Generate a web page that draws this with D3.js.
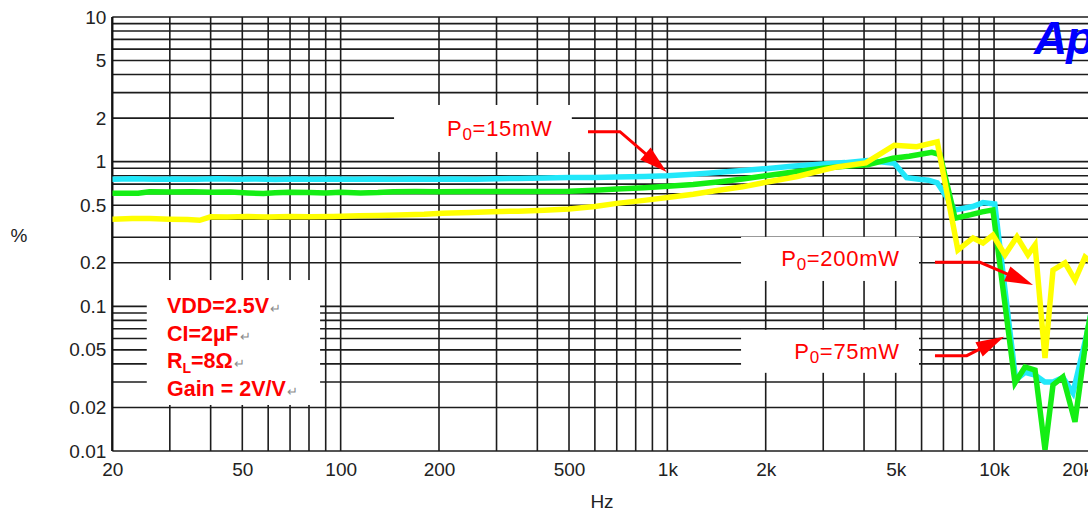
<!DOCTYPE html>
<html>
<head>
<meta charset="utf-8">
<script src="https://cdn.jsdelivr.net/npm/d3@7"></script>
<style>
  html, body { margin: 0; padding: 0; background: #fff; overflow: hidden; }
  svg { display: block; font-family: "Liberation Sans", Arial, sans-serif; }
</style>
</head>
<body>
<svg id="chart" width="1088" height="515"></svg>
<script>
// THD+N (%) versus frequency (Hz) at three output power levels

// Po = 15 mW
const freq15 = [20, 23, 27, 31, 36, 42, 48, 55, 63, 72, 82, 95, 110, 125, 145, 165, 190, 220, 260, 300,
  350, 420, 500, 600, 700, 850, 1000, 1200, 1450, 1700, 2000, 2400, 3000, 3500, 4100, 4950, 5400, 5900,
  6300, 6700, 7600, 8600, 9250, 10050, 11650, 12440, 13350, 14300, 15150, 16250, 17440, 19250, 20000];
const thd15 = [0.757, 0.762, 0.755, 0.76, 0.756, 0.761, 0.755, 0.759, 0.754, 0.76, 0.755, 0.759, 0.756, 0.76, 0.755, 0.759, 0.756, 0.76, 0.757, 0.762,
  0.766, 0.77, 0.776, 0.777, 0.782, 0.79, 0.80, 0.82, 0.845, 0.87, 0.895, 0.93, 0.965, 0.985, 1.02, 0.975, 0.775, 0.755,
  0.745, 0.715, 0.464, 0.49, 0.521, 0.51, 0.031, 0.035, 0.0335, 0.030, 0.030, 0.0322, 0.0252, 0.065, 0.1];

// Po = 75 mW
const freq75 = [20, 24, 26, 30, 35, 40, 46, 52, 58, 63, 70, 80, 90, 100, 115, 130, 145, 170, 200, 250,
  300, 400, 500, 600, 700, 850, 1000, 1200, 1450, 1700, 2000, 2500, 3000, 3500, 4100, 4900, 5500, 6450,
  6830, 7600, 8500, 9200, 9920, 11590, 12440, 13350, 14320, 15150, 16250, 17690, 19250, 20000];
const thd75 = [0.605, 0.606, 0.62, 0.617, 0.62, 0.614, 0.618, 0.608, 0.602, 0.61, 0.615, 0.612, 0.608, 0.615, 0.607, 0.612, 0.62, 0.621, 0.62, 0.622,
  0.622, 0.623, 0.625, 0.635, 0.648, 0.66, 0.675, 0.695, 0.727, 0.76, 0.80, 0.855, 0.90, 0.93, 0.95, 1.056, 1.09, 1.16,
  1.12, 0.406, 0.43, 0.45, 0.464, 0.0296, 0.0381, 0.0363, 0.0102, 0.0286, 0.0325, 0.0159, 0.0655, 0.1];

// Po = 200 mW
const freq200 = [20, 23, 26, 30, 34, 37, 40, 45, 52, 60, 70, 80, 95, 114, 130, 150, 180, 205, 250, 290,
  350, 420, 500, 600, 700, 850, 1000, 1200, 1400, 1700, 2000, 2500, 3000, 3300, 4050, 4950, 5800, 6700,
  7750, 8620, 9250, 9920, 10800, 11750, 12700, 13350, 14320, 15150, 16490, 17690, 18980, 20000];
const thd200 = [0.40, 0.405, 0.404, 0.40, 0.398, 0.393, 0.416, 0.414, 0.417, 0.414, 0.418, 0.416, 0.418, 0.422, 0.424, 0.428, 0.433, 0.44, 0.445, 0.451,
  0.455, 0.462, 0.471, 0.49, 0.515, 0.54, 0.565, 0.595, 0.63, 0.67, 0.72, 0.79, 0.876, 0.92, 0.98, 1.3, 1.27, 1.37,
  0.245, 0.297, 0.274, 0.311, 0.227, 0.302, 0.227, 0.266, 0.044, 0.178, 0.2, 0.152, 0.219, 0.2];

const seriesColors = ["#22e8fa", "#14ee14", "#ffff00"];

// axis ticks
const xTicks = [20, 50, 100, 200, 500, 1000, 2000, 5000, 10000, 20000];
const xTickLabels = ["20", "50", "100", "200", "500", "1k", "2k", "5k", "10k", "20k"];
const yTicks = [0.01, 0.02, 0.05, 0.1, 0.2, 0.5, 1, 2, 5, 10];
const yTickLabels = ["0.01", "0.02", "0.05", "0.1", "0.2", "0.5", "1", "2", "5", "10"];

// test conditions block
const conditionLines = [
  { main: "VDD=2.5V" },
  { main: "CI=2µF" },
  { main: "R", sub: "L", tail: "=8Ω" },
  { main: "Gain = 2V/V" }
];

// power-level callouts, placed in (Hz, %) coordinates
const powerNotes = [
  { tail: "=15mW",  at: [307, 1.505],   box: [[145.7, 2.465], [510, 1.167]],
    arrow: [[571.6, 1.612], [716, 1.612], [995, 0.849]] },
  { tail: "=200mW", at: [3388, 0.191],  box: [[1681, 0.302], [5892, 0.1498]],
    arrow: [[6594, 0.2017], [9058, 0.2017], [13158, 0.1406]] },
  { tail: "=75mW",  at: [3548, 0.0431], box: [[1681, 0.0687], [5892, 0.0347]],
    arrow: [[6594, 0.0456], [8250, 0.0456], [10726, 0.0617]] }
];
const conditionBox = [[25.5, 0.152], [86.5, 0.0208]];
const conditionAt = [29.4, 0.0896];

// ---------------------------------------------------------------
const svg = d3.select("#chart");
const x = d3.scaleLog().domain([20, 20000]).range([112.3, 1092.4]);
const y = d3.scaleLog().domain([0.01, 10]).range([451, 17]);

// grid values: every 1..9 step of each decade
const gridX = [];
[10, 100, 1000, 10000].forEach(d => {
  for (let k = 1; k <= 9; k++) { const v = k * d; if (v >= 20 && v <= 20000) gridX.push(v); }
});
const gridY = [];
[0.01, 0.1, 1].forEach(d => {
  for (let k = 1; k <= 9; k++) gridY.push(+(k * d).toPrecision(3));
});
gridY.push(10);

const grid = svg.append("g").attr("stroke", "#1c1c1c").attr("stroke-width", 1.6);
grid.selectAll("line.h").data(gridY).join("line").attr("class", "h")
  .attr("x1", x(20)).attr("x2", x(20000))
  .attr("y1", d => y(d)).attr("y2", d => y(d));
grid.selectAll("line.v").data(gridX).join("line").attr("class", "v")
  .attr("x1", d => x(d)).attr("x2", d => x(d))
  .attr("y1", y(10)).attr("y2", y(0.01));

// left axis line
svg.append("line").attr("x1", x(20)).attr("x2", x(20))
  .attr("y1", y(10)).attr("y2", y(0.01))
  .attr("stroke", "#111").attr("stroke-width", 2.2);

// white label panels over the grid
const panels = powerNotes.map(n => n.box).concat([conditionBox]);
svg.append("g").selectAll("rect").data(panels).join("rect")
  .attr("x", d => x(d[0][0])).attr("y", d => y(d[0][1]))
  .attr("width", d => x(d[1][0]) - x(d[0][0]))
  .attr("height", d => y(d[1][1]) - y(d[0][1]))
  .attr("fill", "#fff");

// curves
svg.append("clipPath").attr("id", "plotClip").append("rect")
  .attr("x", x(20)).attr("y", y(10) - 4)
  .attr("width", x(20000) - x(20)).attr("height", y(0.01) - y(10) + 8);

const lineGen = d3.line().x(d => x(d[0])).y(d => y(d[1]));
const series = [
  d3.zip(freq15, thd15),
  d3.zip(freq75, thd75),
  d3.zip(freq200, thd200)
];
svg.append("g").attr("clip-path", "url(#plotClip)")
  .selectAll("path").data(series).join("path")
  .attr("d", lineGen)
  .attr("fill", "none")
  .attr("stroke", (d, i) => seriesColors[i])
  .attr("stroke-width", 5.5)
  .attr("stroke-linejoin", "miter")
  .attr("stroke-linecap", "butt");

// axes
const yAxis = d3.axisLeft(y).tickValues(yTicks)
  .tickFormat((d, i) => yTickLabels[i]).tickSize(0).tickPadding(6);
const gy = svg.append("g").attr("transform", `translate(${x(20)},0)`).call(yAxis);
gy.select(".domain").remove();
gy.selectAll("text").attr("font-size", 19).attr("fill", "#222")
  .attr("font-family", "Liberation Sans, Arial, sans-serif");

const xAxis = d3.axisBottom(x).tickValues(xTicks)
  .tickFormat((d, i) => xTickLabels[i]).tickSize(0).tickPadding(12);
const gx = svg.append("g").attr("transform", `translate(0,${y(0.01)})`).call(xAxis);
gx.select(".domain").remove();
gx.selectAll("text").attr("font-size", 19).attr("fill", "#222")
  .attr("font-family", "Liberation Sans, Arial, sans-serif")
  .attr("text-anchor", d => d === 20000 ? "end" : "middle");

// axis titles
svg.append("text").attr("x", 19).attr("y", 242).attr("text-anchor", "middle")
  .attr("font-size", 19).attr("fill", "#222").text("%");
svg.append("text").attr("x", 602).attr("y", 508).attr("text-anchor", "middle")
  .attr("font-size", 19).attr("fill", "#222").text("Hz");

// power-level callouts
const red = "#ff0000";
powerNotes.forEach(n => {
  const t = svg.append("text")
    .attr("x", x(n.at[0])).attr("y", y(n.at[1]))
    .attr("text-anchor", "middle")
    .attr("font-size", 22).attr("letter-spacing", 0.7)
    .attr("fill", red);
  t.append("tspan").text("P");
  t.append("tspan").attr("font-size", 17).attr("dy", 4).text("0");
  t.append("tspan").attr("dy", -4).text(n.tail);

  const pts = n.arrow.map(p => [x(p[0]), y(p[1])]);
  const tip = pts[pts.length - 1];
  const prev = pts[pts.length - 2];
  const dx = tip[0] - prev[0], dy = tip[1] - prev[1];
  const len = Math.hypot(dx, dy), ux = dx / len, uy = dy / len;
  const headLen = 28, headHalf = 8;
  const bx = tip[0] - ux * headLen, by = tip[1] - uy * headLen;
  const shaft = pts.slice(0, -1).concat([[tip[0] - ux * 10, tip[1] - uy * 10]]);
  svg.append("path").attr("d", d3.line()(shaft))
    .attr("fill", "none").attr("stroke", red).attr("stroke-width", 3)
    .attr("stroke-linejoin", "miter");
  svg.append("path")
    .attr("d", d3.line()([tip, [bx - uy * headHalf, by + ux * headHalf], [bx + uy * headHalf, by - ux * headHalf]]) + "Z")
    .attr("fill", red);
});

// test conditions
const cx = x(conditionAt[0]), cy0 = y(conditionAt[1]);
conditionLines.forEach((c, i) => {
  const t = svg.append("text").attr("x", cx).attr("y", cy0 + i * 27.6)
    .attr("font-size", 21.5).attr("font-weight", "bold").attr("fill", red);
  t.append("tspan").text(c.main);
  if (c.sub) {
    t.append("tspan").attr("font-size", 14).attr("dy", 5).text(c.sub);
    t.append("tspan").attr("dy", -5).text(c.tail);
  }
  t.append("tspan").attr("font-size", 13).attr("font-weight", "normal")
    .attr("fill", "#8a8a8a").attr("dx", 1).text("↵");
});

// brand mark
svg.append("text").attr("x", 1034).attr("y", 54)
  .attr("font-size", 46).attr("font-weight", "bold").attr("font-style", "italic")
  .attr("fill", "#0000ff").attr("letter-spacing", -1).text("Ap");
</script>
</body>
</html>
